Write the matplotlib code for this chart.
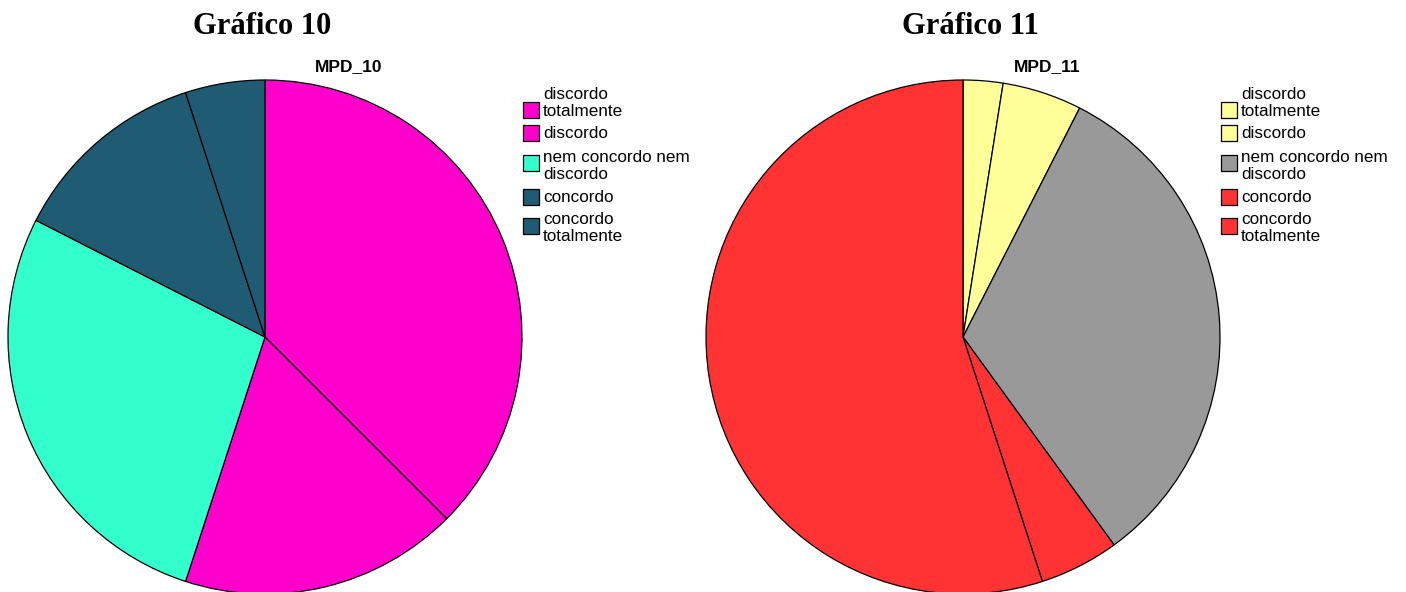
import matplotlib
matplotlib.use("Agg")
import matplotlib.pyplot as plt
from matplotlib.patches import Rectangle

categories = ["discordo\ntotalmente", "discordo", "nem concordo nem\ndiscordo",
              "concordo", "concordo\ntotalmente"]
values_10 = [15, 7, 11, 5, 2]
values_11 = [1, 2, 13, 2, 22]
colors_10 = ["#FF00CC", "#FF00CC", "#33FFCC", "#1F5C73", "#1F5C73"]
colors_11 = ["#FFFF99", "#FFFF99", "#999999", "#FF3333", "#FF3333"]
titles = ["Gráfico 10", "Gráfico 11"]
subtitles = ["MPD_10", "MPD_11"]

W, H = 1406, 592
fig = plt.figure(figsize=(W / 100, H / 100), dpi=100)

def px_axes(cx, cy, r):
    return fig.add_axes([(cx - r) / W, (H - cy - r) / H, 2 * r / W, 2 * r / H])

pies = [
    dict(cx=265, cy=337, r=257, vals=values_10, cols=colors_10, tx=262, lx=523),
    dict(cx=963, cy=337, r=257, vals=values_11, cols=colors_11, tx=970, lx=1221),
]

entry_text_y = [103, 133, 166, 197, 228]
square_y = [110, 133, 163, 197, 226]

for i, p in enumerate(pies):
    ax = px_axes(p["cx"], p["cy"], p["r"])
    ax.pie(p["vals"], colors=p["cols"], startangle=90, counterclock=False,
           radius=1.0, wedgeprops=dict(edgecolor="black", linewidth=0.9))
    ax.set_xlim(-1.0, 1.0)
    ax.set_ylim(-1.0, 1.0)
    ax.set_aspect("equal")
    ax.axis("off")

    fig.text(p["tx"] / W, 1 - 26 / H, titles[i], ha="center", va="center",
             fontsize=22, fontweight="bold", family="Liberation Serif")
    fig.text((p["cx"] + 84) / W, 1 - 67 / H, subtitles[i], ha="center", va="center",
             fontsize=12.5, fontweight="bold", family="Liberation Sans")

    for j, lab in enumerate(categories):
        sq = 16
        fig.patches.append(Rectangle(((p["lx"]) / W, 1 - (square_y[j] + sq / 2) / H),
                                     sq / W, sq / H, transform=fig.transFigure,
                                     facecolor=p["cols"][j], edgecolor="black",
                                     linewidth=0.9))
        fig.text((p["lx"] + 20) / W, 1 - entry_text_y[j] / H, lab, ha="left",
                 va="center", fontsize=12.3, family="Liberation Sans",
                 linespacing=1.1)

fig.savefig("out.png", dpi=100)
